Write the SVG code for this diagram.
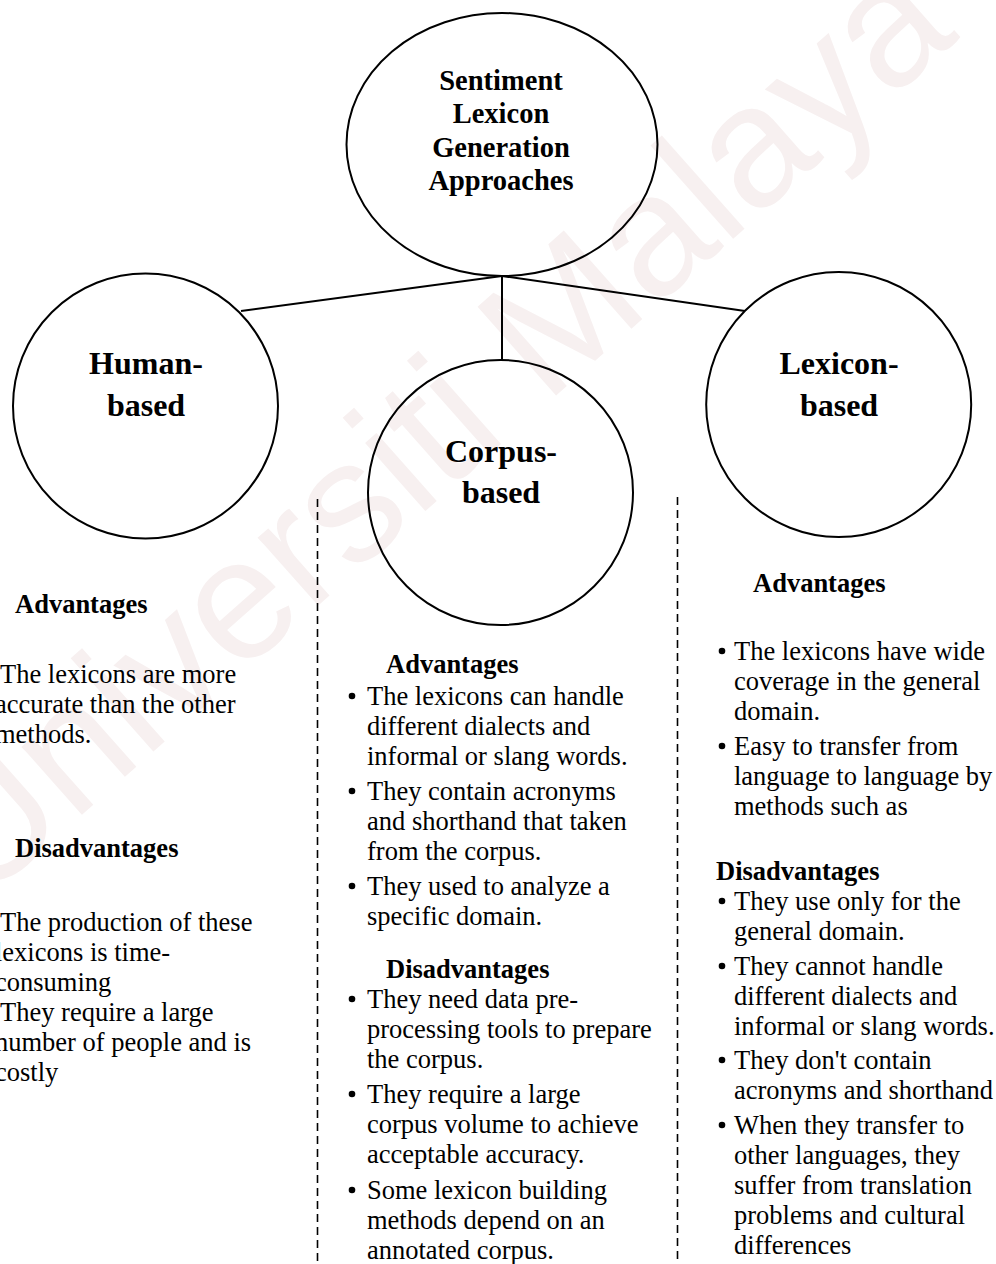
<svg xmlns="http://www.w3.org/2000/svg" width="996" height="1264" viewBox="0 0 996 1264">
  <style>
    .shape { fill: none; stroke: #000; stroke-width: 2; }
    .link { stroke: #000; stroke-width: 2; fill: none; }
    .divider { stroke: #000; stroke-width: 1.6; stroke-dasharray: 8 5; fill: none; }
    .title { font-family: "Liberation Serif", "Times New Roman", serif; font-weight: bold; font-size: 28.5px; text-anchor: middle; fill: #000; }
    .label { font-family: "Liberation Serif", "Times New Roman", serif; font-weight: bold; font-size: 32px; text-anchor: middle; fill: #000; }
    .head { font-family: "Liberation Serif", "Times New Roman", serif; font-weight: bold; font-size: 26.5px; fill: #000; }
    .body { font-family: "Liberation Serif", "Times New Roman", serif; font-size: 26.5px; fill: #000; }
    .dot { fill: #000; }
    .wm { font-family: "Liberation Sans", Arial, sans-serif; font-size: 172px; fill: #f7f0f0; }
  </style>

  <rect width="996" height="1264" fill="#fff"/>

  <!-- background watermark -->
  <text class="wm" transform="translate(-20,905) rotate(-41.5)">Universiti Malaya</text>

  <!-- connectors -->
  <g id="connectors">
    <line class="link" x1="502" y1="276" x2="241" y2="311"/>
    <line class="link" x1="502" y1="276" x2="502" y2="361"/>
    <line class="link" x1="502" y1="276" x2="745" y2="311"/>
    <line class="divider" x1="317.5" y1="499" x2="317.5" y2="1264"/>
    <line class="divider" x1="677.5" y1="497" x2="677.5" y2="1264"/>
  </g>

  <!-- root -->
  <g id="root">
    <ellipse class="shape" cx="502" cy="144.5" rx="155.5" ry="131.5"/>
    <text class="title" x="501" y="90">Sentiment</text>
    <text class="title" x="501" y="123">Lexicon</text>
    <text class="title" x="501" y="157">Generation</text>
    <text class="title" x="501" y="190">Approaches</text>
  </g>

  <!-- human-based -->
  <g id="human">
    <circle class="shape" cx="145.5" cy="406" r="132.5"/>
    <text class="label" x="146" y="374">Human-</text>
    <text class="label" x="146" y="416">based</text>
  </g>

  <!-- corpus-based -->
  <g id="corpus">
    <circle class="shape" cx="500.5" cy="492.5" r="132.5"/>
    <text class="label" x="501" y="462">Corpus-</text>
    <text class="label" x="501" y="503">based</text>
  </g>

  <!-- lexicon-based -->
  <g id="lexicon">
    <circle class="shape" cx="838.7" cy="404.5" r="132.5"/>
    <text class="label" x="839" y="374">Lexicon-</text>
    <text class="label" x="839" y="416">based</text>
  </g>

  <!-- human-based notes -->
  <g id="human-notes">
    <text class="head" x="15" y="613">Advantages</text>
    <text class="body" x="0" y="683">The lexicons are more</text>
    <text class="body" x="-5" y="713">accurate than the other</text>
    <text class="body" x="-5" y="743">methods.</text>

    <text class="head" x="15" y="857">Disadvantages</text>
    <text class="body" x="0" y="931">The production of these</text>
    <text class="body" x="-5" y="961">lexicons is time-</text>
    <text class="body" x="-5" y="991">consuming</text>
    <text class="body" x="0" y="1021">They require a large</text>
    <text class="body" x="-5" y="1051">number of people and is</text>
    <text class="body" x="-5" y="1081">costly</text>
  </g>

  <!-- corpus-based notes -->
  <g id="corpus-notes">
    <text class="head" x="386" y="673">Advantages</text>
    <circle class="dot" cx="352" cy="696" r="3.3"/>
    <text class="body" x="367" y="705">The lexicons can handle</text>
    <text class="body" x="367" y="735">different dialects and</text>
    <text class="body" x="367" y="765">informal or slang words.</text>
    <circle class="dot" cx="352" cy="791" r="3.3"/>
    <text class="body" x="367" y="800">They contain acronyms</text>
    <text class="body" x="367" y="830">and shorthand that taken</text>
    <text class="body" x="367" y="860">from the corpus.</text>
    <circle class="dot" cx="352" cy="886" r="3.3"/>
    <text class="body" x="367" y="895">They used to analyze a</text>
    <text class="body" x="367" y="925">specific domain.</text>

    <text class="head" x="386" y="978">Disadvantages</text>
    <circle class="dot" cx="352" cy="999" r="3.3"/>
    <text class="body" x="367" y="1008">They need data pre-</text>
    <text class="body" x="367" y="1038">processing tools to prepare</text>
    <text class="body" x="367" y="1068">the corpus.</text>
    <circle class="dot" cx="352" cy="1094" r="3.3"/>
    <text class="body" x="367" y="1103">They require a large</text>
    <text class="body" x="367" y="1133">corpus volume to achieve</text>
    <text class="body" x="367" y="1163">acceptable accuracy.</text>
    <circle class="dot" cx="352" cy="1190" r="3.3"/>
    <text class="body" x="367" y="1199">Some lexicon building</text>
    <text class="body" x="367" y="1229">methods depend on an</text>
    <text class="body" x="367" y="1259">annotated corpus.</text>
  </g>

  <!-- lexicon-based notes -->
  <g id="lexicon-notes">
    <text class="head" x="753" y="592">Advantages</text>
    <circle class="dot" cx="722" cy="651" r="3.3"/>
    <text class="body" x="734" y="660">The lexicons have wide</text>
    <text class="body" x="734" y="690">coverage in the general</text>
    <text class="body" x="734" y="720">domain.</text>
    <circle class="dot" cx="722" cy="746" r="3.3"/>
    <text class="body" x="734" y="755">Easy to transfer from</text>
    <text class="body" x="734" y="785">language to language by</text>
    <text class="body" x="734" y="815">methods such as</text>

    <text class="head" x="716" y="880">Disadvantages</text>
    <circle class="dot" cx="722" cy="901" r="3.3"/>
    <text class="body" x="734" y="910">They use only for the</text>
    <text class="body" x="734" y="940">general domain.</text>
    <circle class="dot" cx="722" cy="966" r="3.3"/>
    <text class="body" x="734" y="975">They cannot handle</text>
    <text class="body" x="734" y="1005">different dialects and</text>
    <text class="body" x="734" y="1035">informal or slang words.</text>
    <circle class="dot" cx="722" cy="1060" r="3.3"/>
    <text class="body" x="734" y="1069">They don't contain</text>
    <text class="body" x="734" y="1099">acronyms and shorthand</text>
    <circle class="dot" cx="722" cy="1125" r="3.3"/>
    <text class="body" x="734" y="1134">When they transfer to</text>
    <text class="body" x="734" y="1164">other languages, they</text>
    <text class="body" x="734" y="1194">suffer from translation</text>
    <text class="body" x="734" y="1224">problems and cultural</text>
    <text class="body" x="734" y="1254">differences</text>
  </g>
</svg>
